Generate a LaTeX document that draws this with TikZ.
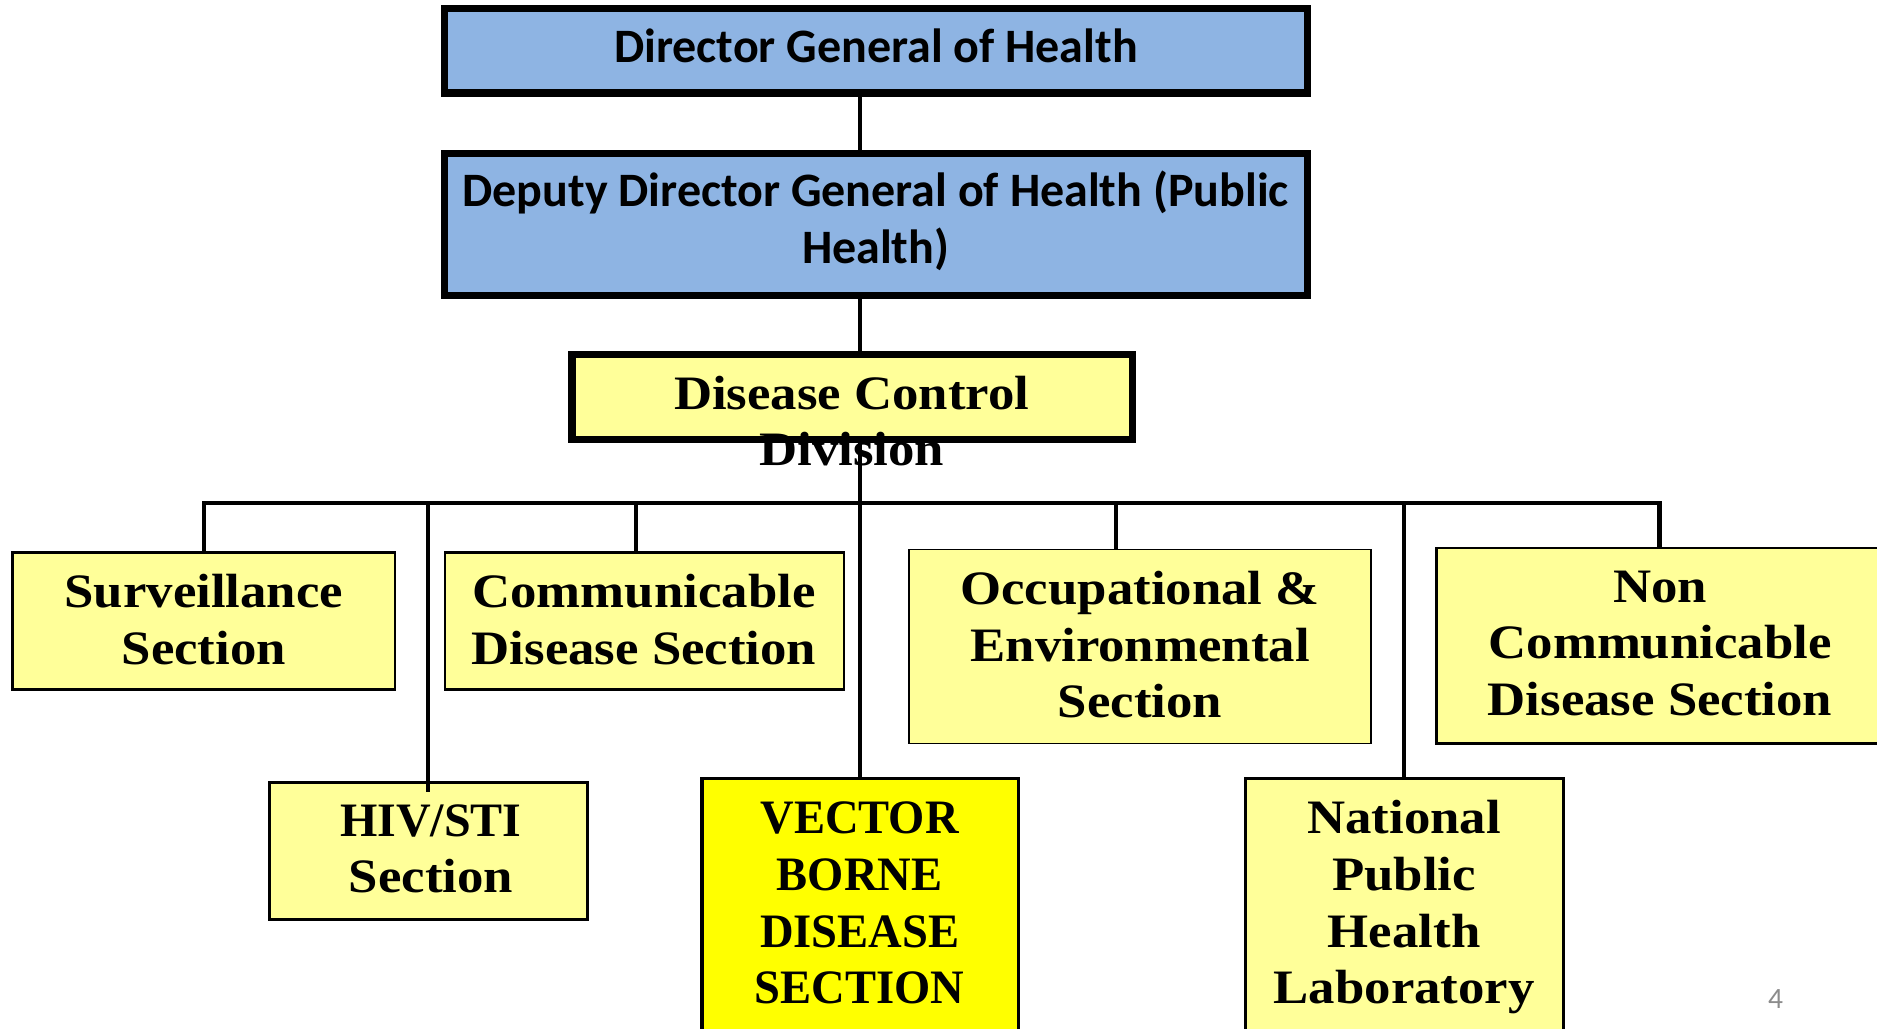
\documentclass[tikz,border=0pt]{standalone}
\usepackage{fontspec}
\setmainfont{Liberation Serif}
\newfontfamily\calfont{Carlito}
\newfontfamily\serfont[FakeStretch=1.1]{Liberation Serif}
\newfontfamily\capfont[FakeStretch=0.97]{Liberation Serif}
\newfontfamily\hivfont[FakeStretch=1.0]{Liberation Serif}
\newcommand\mytop{\rule{0pt}{0.8em}}
\newcommand\mybot{\rule[-0.25em]{0pt}{0.25em}}
\definecolor{boxblue}{HTML}{8EB4E3}
\definecolor{paleyellow}{HTML}{FFFF99}
\definecolor{vbdyellow}{HTML}{FFFF00}
\definecolor{pagegray}{HTML}{8C8C8C}
\tikzset{
  bluebox/.style={draw=black, fill=boxblue, line width=1.74pt, inner sep=0pt, outer sep=0pt},
  ybox/.style={draw=black, fill=paleyellow, line width=0.65pt, inner sep=0pt, outer sep=0pt},
  vbox/.style={draw=black, fill=vbdyellow, line width=0.8pt, inner sep=0pt, outer sep=0pt},
  dcfill/.style={fill=paleyellow, inner sep=0pt, outer sep=0pt},
  dcborder/.style={draw=black, line width=1.71pt},
  caltxt/.style={inner sep=0pt, align=center, font=\calfont\bfseries\fontsize{11.4}{13.46}\selectfont},
  sertxt/.style={inner sep=0pt, align=center, font=\serfont\bfseries\fontsize{11.4}{13.46}\selectfont},
  captxt/.style={inner sep=0pt, align=center, font=\capfont\bfseries\fontsize{11.4}{13.46}\selectfont},
  conn/.style={draw=black, line width=1pt}
}
\begin{document}
\begin{tikzpicture}[x=0.01cm, y=-0.01cm]
\clip (0,0) rectangle (1568,858.8);
\fill[white] (0,0) rectangle (1568,858.8);

% top boxes
\node[bluebox, minimum width=7.201cm, minimum height=0.707cm] (dg) at (731.75,42.35) {};
\node[caltxt] (dgtext) at (731.8,41.4) {\mytop Director General of Health\mybot};
\node[bluebox, minimum width=7.201cm, minimum height=1.186cm] (ddg) at (731.75,187.7) {};
\node[caltxt] (ddgtext) at (731.5,185.35) {\mytop Deputy Director General of Health (Public\\Health)\mybot};

% disease control
\node[dcfill, minimum width=4.682cm, minimum height=0.712cm] (dc) at (712,331.8) {};
\node[sertxt] (dctext) at (711.5,354.5) {\mytop Disease Control\\Division\mybot};
\draw[dcborder] (dc.south west) rectangle (dc.north east);

% sections
\node[ybox, minimum width=3.191cm, minimum height=1.148cm] (surv) at (170.25,518.8) {};
\node[sertxt] (survtext) at (170.3,520.35) {\mytop Surveillance\\Section\mybot};
\node[ybox, minimum width=3.331cm, minimum height=1.148cm] (comm) at (538.35,518.8) {};
\node[sertxt] (commtext) at (538,520.35) {\mytop Communicable\\Disease Section\mybot};
\node[ybox, line width=0.4pt, minimum width=3.857cm, minimum height=1.62cm] (occ) at (952.15,540.1) {};
\node[sertxt] (occtext) at (952.4,541.35) {\mytop Occupational \&\\Environmental\\Section\mybot};
\node[ybox, minimum width=4.001cm, minimum height=1.635cm] (nonc) at (1399.95,539.55) {};
\node[sertxt] (nonctext) at (1386.8,539.3) {\mytop Non\\Communicable\\Disease Section\mybot};
\node[ybox, line width=0.74pt, minimum width=2.661cm, minimum height=1.146cm] (hiv) at (357.95,710.8) {};
\node[sertxt] (hivtext) at (360,711.1) {\mytop{\hivfont\bfseries HIV/STI}\\Section\mybot};
\node[vbox, minimum width=2.644cm, minimum height=2.497cm] (vbd) at (718.6,775.15) {};
\node[captxt] (vbdtext) at (718.1,756.6) {\mytop VECTOR\\BORNE\\DISEASE\\SECTION\mybot};
\node[ybox, line width=0.8pt, minimum width=2.651cm, minimum height=2.497cm] (npl) at (1173.25,775.15) {};
\node[sertxt] (npltext) at (1173,756.5) {\mytop National\\Public\\Health\\Laboratory\mybot};

% page number
\node[anchor=base, inner sep=0pt, text=pagegray, font=\calfont\fontsize{7}{8}\selectfont] (pnum) at (1483.2,842.4) {4};

% connectors
\coordinate (spine) at (718.4,0);
\coordinate (b-hiv) at (357.8,420.5);
\coordinate (b-comm) at (531.4,420.5);
\coordinate (b-occ) at (932.2,420.5);
\coordinate (b-npl) at (1172.8,420.5);
\coordinate (b-nonc) at (1386.3,420.5);
\draw[conn] (spine |- dg.south) -- (spine |- ddg.north);
\draw[conn] (spine |- ddg.south) -- (spine |- dc.north);
\draw[conn] (spine |- dc.south) -- (spine |- vbd.north);
\draw[conn] (surv.north) |- (b-nonc) -- (b-nonc |- nonc.north);
\draw[conn] (b-hiv) -- (b-hiv |- hiv.north) -- ++(0,8);
\draw[conn] (b-comm) -- (b-comm |- comm.north);
\draw[conn] (b-occ) -- (b-occ |- occ.north);
\draw[conn] (b-npl) -- (b-npl |- npl.north);
\end{tikzpicture}
\end{document}
